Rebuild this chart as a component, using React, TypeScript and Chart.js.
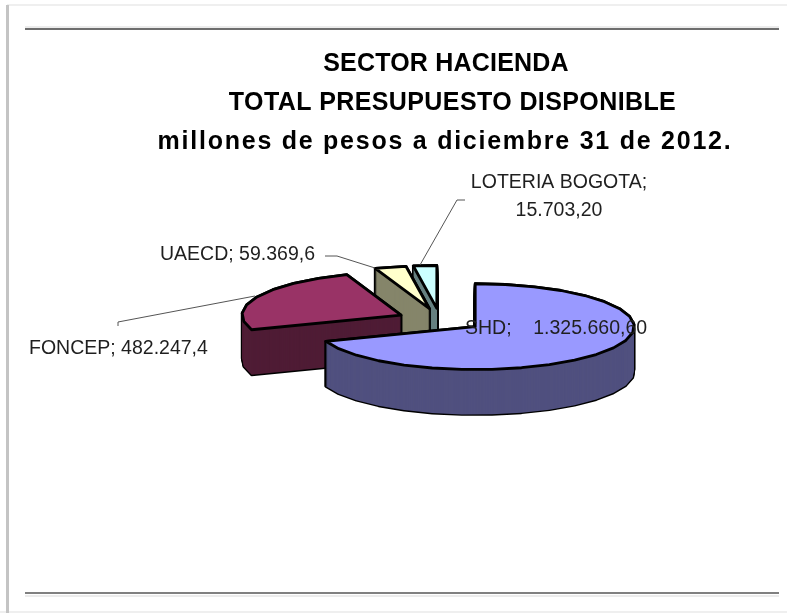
import React, { useEffect, useRef } from "react";
import { Chart, registerables } from "chart.js";

Chart.register(...registerables);

const categories = ["SHD", "FONCEP", "UAECD", "LOTERIA BOGOTA"];
const presupuesto = [1325660.6, 482247.4, 59369.6, 15703.2];
const topColors = ["#9999FF", "#993366", "#FFFFCC", "#CCFFFF"];
const wallColors = ["#50507F", "#4F1C35", "#85856A", "#668080"];
const titleLines = [
  { text: "SECTOR HACIENDA", x: 446, y: 64, spacing: 0.2 },
  { text: "TOTAL PRESUPUESTO DISPONIBLE", x: 452.5, y: 103, spacing: 0.4 },
  { text: "millones de pesos a diciembre 31 de 2012.", x: 445, y: 142, spacing: 1.75 },
];

// The original's 3-D perspective bends the slice angles: true clock angle -> drawn clock angle.
const perspectiveFrom = [0, 253.4, 345.6, 357, 360];
const perspectiveTo = [0, 250, 340, 351.5, 360];

const SQUASH = 0.27;
const DEPTH = 45;
const PIE_CENTER = { x: 440, y: 320 };

function warp(deg: number) {
  for (let i = 1; i < perspectiveFrom.length; i++) {
    if (deg <= perspectiveFrom[i] + 1e-6) {
      const t = (deg - perspectiveFrom[i - 1]) / (perspectiveFrom[i] - perspectiveFrom[i - 1]);
      return perspectiveTo[i - 1] + t * (perspectiveTo[i] - perspectiveTo[i - 1]);
    }
  }
  return deg;
}

function slicePath(ctx: CanvasRenderingContext2D, el: any, dy: number) {
  const p = el.getProps(["startAngle", "endAngle", "outerRadius"], true);
  const toClock = (a: number) => ((a + Math.PI / 2) * 180) / Math.PI;
  const s = warp(toClock(p.startAngle));
  const e = warp(toClock(p.endAngle));
  const mid = ((s + e) / 2) * (Math.PI / 180);
  const off = el.options.offset;
  const ax = PIE_CENTER.x + off * Math.sin(mid);
  const ay = PIE_CENTER.y - off * Math.cos(mid) * SQUASH + dy;
  ctx.beginPath();
  ctx.moveTo(ax, ay);
  const steps = Math.max(1, Math.round((e - s) / 11));
  for (let i = 0; i <= steps; i++) {
    const t = ((s + ((e - s) * i) / steps) * Math.PI) / 180;
    ctx.lineTo(ax + p.outerRadius * Math.sin(t), ay - p.outerRadius * Math.cos(t) * SQUASH);
  }
  ctx.closePath();
}

const pie3d = {
  id: "pie3d",
  beforeDatasetDraw(chart: any, args: any) {
    const ctx: CanvasRenderingContext2D = chart.ctx;
    const arcs = args.meta.data;
    ctx.save();
    ctx.lineJoin = "round";
    for (let i = arcs.length - 1; i >= 0; i--) {
      const el = arcs[i];
      ctx.strokeStyle = "#000";
      ctx.lineWidth = 2.8;
      for (let d = DEPTH; d >= 0; d -= 1) {
        slicePath(ctx, el, d);
        ctx.stroke();
      }
      ctx.fillStyle = wallColors[i];
      for (let d = DEPTH; d >= 0; d -= 1) {
        slicePath(ctx, el, d);
        ctx.fill();
      }
      slicePath(ctx, el, 0);
      ctx.fillStyle = topColors[i];
      ctx.fill();
      ctx.stroke();
    }
    ctx.restore();
    return false;
  },
};

const labelTexts = [
  { lines: ["SHD;    1.325.660,60"], x: 465, y: 329, align: "left" },
  { lines: ["FONCEP; 482.247,4"], x: 29, y: 349, align: "left" },
  { lines: ["UAECD; 59.369,6"], x: 160, y: 255, align: "left" },
  { lines: ["LOTERIA BOGOTA;", "15.703,20"], x: 559, y: 183, align: "center" },
];
const leaders = [
  [[118, 326], [118, 322], [255, 296]],
  [[325, 256], [337, 256], [375, 268]],
  [[465, 200], [457, 200], [420, 265]],
];

const annotations = {
  id: "annotations",
  beforeDraw(chart: any) {
    const ctx: CanvasRenderingContext2D = chart.ctx;
    ctx.save();
    ctx.fillStyle = "#fff";
    ctx.fillRect(0, 0, 787, 613);
    // page frame
    ctx.fillStyle = "#efefef";
    ctx.fillRect(7, 4, 780, 2);
    ctx.fillRect(0, 611, 787, 2);
    ctx.fillStyle = "#c4c4c4";
    ctx.fillRect(6, 5, 3, 608);
    // rules
    ctx.fillStyle = "#ececec";
    ctx.fillRect(25, 26, 754, 2);
    ctx.fillRect(25, 595, 754, 2);
    ctx.fillStyle = "#6e6e6e";
    ctx.fillRect(25, 28, 754, 2);
    ctx.fillStyle = "#808080";
    ctx.fillRect(25, 592, 754, 2);
    // title
    ctx.fillStyle = "#000";
    ctx.font = 'bold 25px "Liberation Sans"';
    ctx.textAlign = "center";
    ctx.textBaseline = "middle";
    for (const line of titleLines) {
      (ctx as any).letterSpacing = `${line.spacing}px`;
      ctx.fillText(line.text, line.x, line.y);
    }
    (ctx as any).letterSpacing = "0px";
    ctx.restore();
  },
  afterDatasetsDraw(chart: any) {
    const ctx: CanvasRenderingContext2D = chart.ctx;
    ctx.save();
    ctx.strokeStyle = "#555";
    ctx.lineWidth = 1;
    for (const pts of leaders) {
      ctx.beginPath();
      pts.forEach(([x, y], i) => (i ? ctx.lineTo(x, y) : ctx.moveTo(x, y)));
      ctx.stroke();
    }
    ctx.fillStyle = "#1f1f1f";
    ctx.font = '19.5px "Liberation Sans"';
    ctx.textBaseline = "middle";
    for (const l of labelTexts) {
      ctx.textAlign = l.align as CanvasTextAlign;
      l.lines.forEach((t, i) => ctx.fillText(t, l.x, l.y + i * 28));
    }
    ctx.restore();
  },
};

export default function App() {
  const ref = useRef<HTMLCanvasElement>(null);
  useEffect(() => {
    const chart = new Chart(ref.current as HTMLCanvasElement, {
      type: "pie",
      data: {
        labels: categories,
        datasets: [
          {
            data: presupuesto,
            backgroundColor: topColors,
            borderWidth: 0,
            offset: 43,
            radius: 159,
          },
        ],
      },
      options: {
        animation: false,
        responsive: false,
        layout: { padding: { left: 103, top: 165, bottom: 138 } },
        plugins: {
          legend: { display: false },
          tooltip: { enabled: false },
          title: { display: false },
        },
      },
      plugins: [annotations, pie3d],
    } as any);
    return () => chart.destroy();
  }, []);
  return (
    <div style={{ position: "absolute", left: 0, top: 0, width: 787, height: 613 }}>
      <canvas ref={ref} width={787} height={613} style={{ display: "block" }} />
    </div>
  );
}
